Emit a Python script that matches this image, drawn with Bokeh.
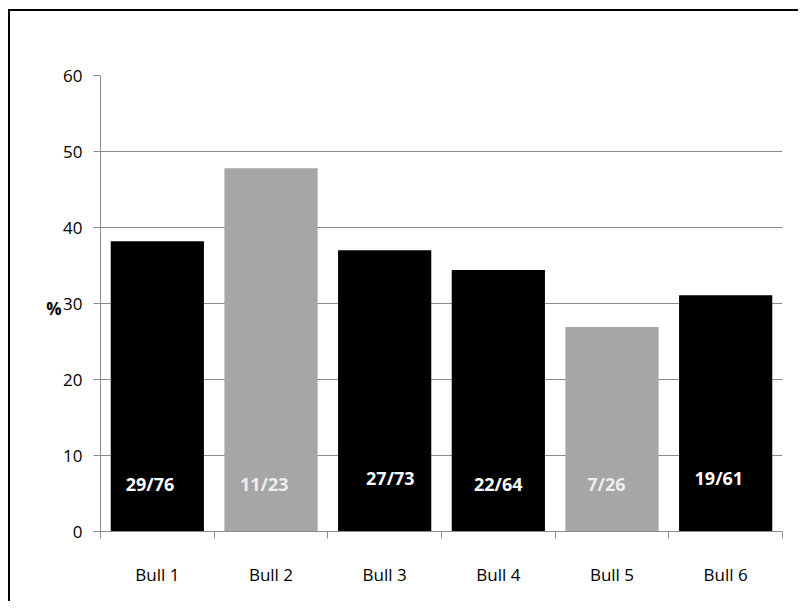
from bokeh.plotting import figure
from bokeh.models import ColumnDataSource, Range1d, FixedTicker, LinearAxis
from bokeh.core.properties import value
from bokeh.embed import file_html
from bokeh.resources import INLINE

# ---- data ----
categories = ["Bull 1", "Bull 2", "Bull 3", "Bull 4", "Bull 5", "Bull 6"]
percent = [38.2, 47.8, 37.0, 34.4, 26.9, 31.1]
bar_labels = ["29/76", "11/23", "27/73", "22/64", "7/26", "19/61"]
bar_colors = ["#000000", "#a6a6a6", "#000000", "#000000", "#a6a6a6", "#000000"]
label_colors = ["#ffffff", "#eeeeee", "#ffffff", "#ffffff", "#eeeeee", "#ffffff"]
label_y = [6.3, 6.3, 7.1, 6.3, 6.3, 7.1]
label_dx = [-0.065, -0.06, 0.05, 0.0, -0.05, -0.06]
y_ticks = [0, 10, 20, 30, 40, 50, 60]
y_title = "%"

FONT = "Open Sans"

xs = [i + 0.5 for i in range(len(categories))]
src = ColumnDataSource(dict(
    x=xs, top=percent, color=bar_colors,
    lx=[x + d for x, d in zip(xs, label_dx)], ly=label_y,
    txt=bar_labels, tcolor=label_colors,
))

# outer chart frame: only its top and left edges fall inside the picture
frame_css = {
    "background-color": "white",
    "background-image": "linear-gradient(black, black), linear-gradient(black, black)",
    "background-size": "100% 2px, 2px 100%",
    "background-position": "8px 9px, 8px 9px",
    "background-repeat": "no-repeat",
}

p = figure(width=798, height=601, output_backend="svg", toolbar_location=None,
           x_range=Range1d(0, len(categories)), y_range=Range1d(0, 60),
           min_border_left=100, min_border_top=75, min_border_right=16,
           min_border_bottom=70, styles=frame_css)
p.outline_line_color = None
p.background_fill_color = "white"
p.border_fill_color = None
p.border_fill_alpha = 0

p.vbar(x="x", top="top", width=0.82, fill_color="color", line_color=None, source=src)
p.text(x="lx", y="ly", text="txt", text_color="tcolor", source=src,
       text_font=value(FONT), text_font_style="bold", text_font_size="18px",
       text_align="center", text_baseline="middle")

# y axis
p.yaxis.ticker = FixedTicker(ticks=y_ticks)
p.yaxis.axis_line_color = "#8c8c8c"
p.yaxis.major_tick_line_color = "#8c8c8c"
p.yaxis.major_tick_out = 7
p.yaxis.major_tick_in = 0
p.yaxis.minor_tick_line_color = None
p.yaxis.major_label_text_font = FONT
p.yaxis.major_label_text_font_size = "17px"
p.yaxis.major_label_text_color = "#000000"
p.yaxis.major_label_standoff = 11
p.ygrid.ticker = FixedTicker(ticks=y_ticks)
p.ygrid.grid_line_color = "#8c8c8c"
p.xgrid.grid_line_color = None

# "%" title, written horizontally by an extra label-only axis
title_axis = LinearAxis(ticker=FixedTicker(ticks=[29.4]),
                        major_label_overrides={29.4: y_title},
                        axis_line_color=None, major_tick_line_color=None,
                        minor_tick_line_color=None, major_tick_out=0, major_tick_in=0,
                        major_label_standoff=-1, major_label_text_font=FONT,
                        major_label_text_font_style="bold",
                        major_label_text_font_size="17px",
                        major_label_text_color="#000000")
p.add_layout(title_axis, "left")

# x axis
p.xaxis.ticker = FixedTicker(ticks=xs, minor_ticks=list(range(len(categories) + 1)))
p.xaxis.major_label_overrides = {x: c for x, c in zip(xs, categories)}
p.xaxis.axis_line_color = "#8c8c8c"
p.xaxis.major_tick_line_color = None
p.xaxis.major_tick_out = 0
p.xaxis.major_tick_in = 0
p.xaxis.minor_tick_line_color = "#8c8c8c"
p.xaxis.minor_tick_out = 7
p.xaxis.minor_tick_in = 0
p.xaxis.major_label_text_font = FONT
p.xaxis.major_label_text_font_size = "17px"
p.xaxis.major_label_text_color = "#000000"
p.xaxis.major_label_standoff = 24

open("out.html", "w").write(file_html(p, INLINE))
